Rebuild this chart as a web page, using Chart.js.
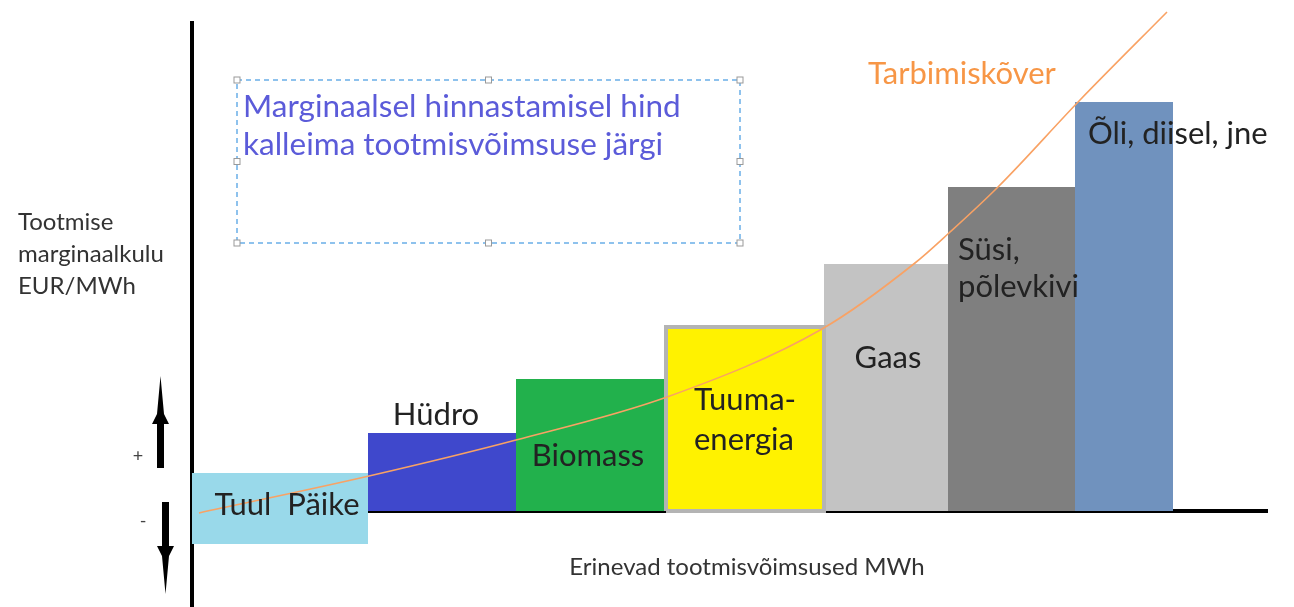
<!DOCTYPE html>
<html>
<head>
<meta charset="utf-8">
<title>Marginaalne hinnastamine</title>
<script src="https://cdn.jsdelivr.net/npm/chart.js@4.4.1/dist/chart.umd.min.js"></script>
<style>
html, body { margin: 0; padding: 0; background: #fff; overflow: hidden; }
</style>
</head>
<body>
<canvas id="chart" width="1294" height="607"></canvas>
<script>
// tootmisvõimsused (laius = MWh, kõrgus = EUR/MWh)
const names = ['Tuul  Päike', 'Hüdro', 'Biomass', 'Tuuma-\nenergia', 'Gaas', 'Süsi,\npõlevkivi', 'Õli, diisel, jne'];
const capacity = [88, 74, 75, 79, 62, 63.5, 49];
const costTop = [19, 39, 66, 92, 123.5, 162, 204.5];
const costBase = [-16.5, 0, 0, 0, 0, 0, 0];
const colors = ['#99d9ea', '#3f48cc', '#22b14c', '#fff200', '#c3c3c3', '#7f7f7f', '#7092be'];

// tarbimiskõver
const demandX = [3.5, 88.5, 162, 237.5, 315, 361.5, 378.5, 403, 444, 487.5];
const demandY = [-1, 17.5, 35.5, 57, 91, 124, 139, 162, 205.5, 249.5];

// label placement relative to the bar (style only)
const labelStyle = [
    { align: 'center', dx: 7, dy: null, base: -6 },
    { align: 'center', dx: -6, dy: -18 },
    { align: 'center', dx: -3, dy: 77 },
    { align: 'left', dx: 28, dy: 73, lh: 40 },
    { align: 'center', dx: 2, dy: 94 },
    { align: 'left', dx: 10, dy: 63, lh: 37 },
    { align: 'left', dx: 13, dy: 32 }
];

const starts = [];
let acc = 0;
capacity.forEach(c => { starts.push(acc); acc += c; });

const barSets = names.map((n, i) => {
    const x0 = starts[i], x1 = starts[i] + capacity[i];
    return {
        label: n,
        data: [
            { x: x0, y: costBase[i] }, { x: x0, y: costTop[i] },
            { x: x1, y: costTop[i] }, { x: x1, y: costBase[i] }
        ],
        fill: { value: costBase[i] },
        backgroundColor: colors[i],
        borderWidth: 0,
        pointRadius: 0,
        tension: 0
    };
});

// tuumaenergia has a grey frame
const ti = 3;
const tuumaFrame = {
    label: 'frame',
    data: [
        { x: starts[ti], y: 0 }, { x: starts[ti], y: costTop[ti] },
        { x: starts[ti] + capacity[ti], y: costTop[ti] }, { x: starts[ti] + capacity[ti], y: 0 },
        { x: starts[ti], y: 0 }
    ],
    fill: false,
    borderColor: '#b4b4b4',
    borderWidth: 4,
    pointRadius: 0,
    tension: 0
};

const curve = {
    label: 'Tarbimiskõver',
    data: demandX.map((x, i) => ({ x: x, y: demandY[i] })),
    fill: false,
    borderColor: '#f9a264',
    borderWidth: 1.6,
    pointRadius: 0,
    cubicInterpolationMode: 'monotone',
    clip: false
};

const FONT = 'Lato, "Open Sans", sans-serif';

const annotations = {
    id: 'annotations',
    afterDatasetsDraw(chart) {
        const ctx = chart.ctx;
        const xs = chart.scales.x, ys = chart.scales.y;
        ctx.save();
        ctx.fillStyle = '#222';
        ctx.font = '31px ' + FONT;
        ctx.textBaseline = 'middle';
        names.forEach((n, i) => {
            const st = labelStyle[i];
            const x0 = xs.getPixelForValue(starts[i]);
            const x1 = xs.getPixelForValue(starts[i] + capacity[i]);
            const top = ys.getPixelForValue(costTop[i]);
            let x = st.align === 'center' ? (x0 + x1) / 2 + st.dx : x0 + st.dx;
            let y = st.dy === null ? ys.getPixelForValue(0) + st.base : top + st.dy;
            ctx.textAlign = st.align;
            n.split('\n').forEach((line, k) => ctx.fillText(line, x, y + k * (st.lh || 0)));
        });

        // curve label
        ctx.fillStyle = '#f79646';
        ctx.font = '31px ' + FONT;
        ctx.textAlign = 'left';
        ctx.fillText('Tarbimiskõver', 868, 74);
        ctx.restore();
    },
    afterDraw(chart) {
        const ctx = chart.ctx;
        ctx.save();
        // y axis title
        ctx.fillStyle = '#333';
        ctx.font = '24px ' + FONT;
        ctx.textAlign = 'left';
        ctx.textBaseline = 'middle';
        ['Tootmise', 'marginaalkulu', 'EUR/MWh'].forEach((t, k) => ctx.fillText(t, 18, 222 + k * 32));

        // x axis title
        ctx.textAlign = 'center';
        ctx.font = '24px ' + FONT;
        ctx.fillText('Erinevad tootmisvõimsused MWh', 747, 567);

        // +/- signs
        ctx.fillStyle = '#444';
        ctx.font = '18px ' + FONT;
        ctx.fillText('+', 138, 456);
        ctx.fillText('-', 143, 521);

        // arrows
        ctx.fillStyle = '#000';
        ctx.beginPath();
        ctx.moveTo(160.5, 376);
        ctx.lineTo(164, 414); ctx.lineTo(169, 424); ctx.lineTo(164, 424);
        ctx.lineTo(164, 468); ctx.lineTo(157, 468); ctx.lineTo(157, 424);
        ctx.lineTo(152, 424); ctx.lineTo(157, 414);
        ctx.closePath();
        ctx.fill();
        ctx.beginPath();
        ctx.moveTo(165.5, 594);
        ctx.lineTo(169, 556); ctx.lineTo(174, 546); ctx.lineTo(169, 546);
        ctx.lineTo(169, 502); ctx.lineTo(162, 502); ctx.lineTo(162, 546);
        ctx.lineTo(157, 546); ctx.lineTo(162, 556);
        ctx.closePath();
        ctx.fill();

        // text box
        const bx0 = 237, by0 = 80, bx1 = 740, by1 = 243;
        ctx.strokeStyle = '#6aaee8';
        ctx.lineWidth = 1.5;
        ctx.setLineDash([5, 4]);
        ctx.strokeRect(bx0, by0, bx1 - bx0, by1 - by0);
        ctx.setLineDash([]);
        const mx = (bx0 + bx1) / 2, my = (by0 + by1) / 2;
        [[bx0, by0], [mx, by0], [bx1, by0], [bx0, my], [bx1, my], [bx0, by1], [mx, by1], [bx1, by1]].forEach(p => {
            ctx.fillStyle = '#fff';
            ctx.fillRect(p[0] - 3, p[1] - 3, 6, 6);
            ctx.strokeStyle = '#999';
            ctx.lineWidth = 1;
            ctx.strokeRect(p[0] - 3, p[1] - 3, 6, 6);
        });
        ctx.fillStyle = '#5b5bd9';
        ctx.font = '31.5px ' + FONT;
        ctx.textAlign = 'left';
        ctx.fillText('Marginaalsel hinnastamisel hind', 243, 107);
        ctx.fillText('kalleima tootmisvõimsuse järgi', 243, 145);
        ctx.restore();
    }
};

new Chart(document.getElementById('chart'), {
    type: 'line',
    data: { datasets: [curve, tuumaFrame, ...barSets] },
    options: {
        responsive: false,
        animation: false,
        devicePixelRatio: 1,
        layout: { padding: { left: 192, right: 26, top: 23, bottom: 0 } },
        plugins: { legend: { display: false }, tooltip: { enabled: false } },
        scales: {
            x: { type: 'linear', min: 0, max: 538, display: false },
            y: {
                type: 'linear', min: -48, max: 244,
                afterBuildTicks: s => { s.ticks = [{ value: 0 }]; },
                ticks: { display: false },
                grid: { drawTicks: false, color: '#000', lineWidth: 4 },
                border: { display: true, color: '#000', width: 4 }
            }
        }
    },
    plugins: [annotations]
});
</script>
</body>
</html>
